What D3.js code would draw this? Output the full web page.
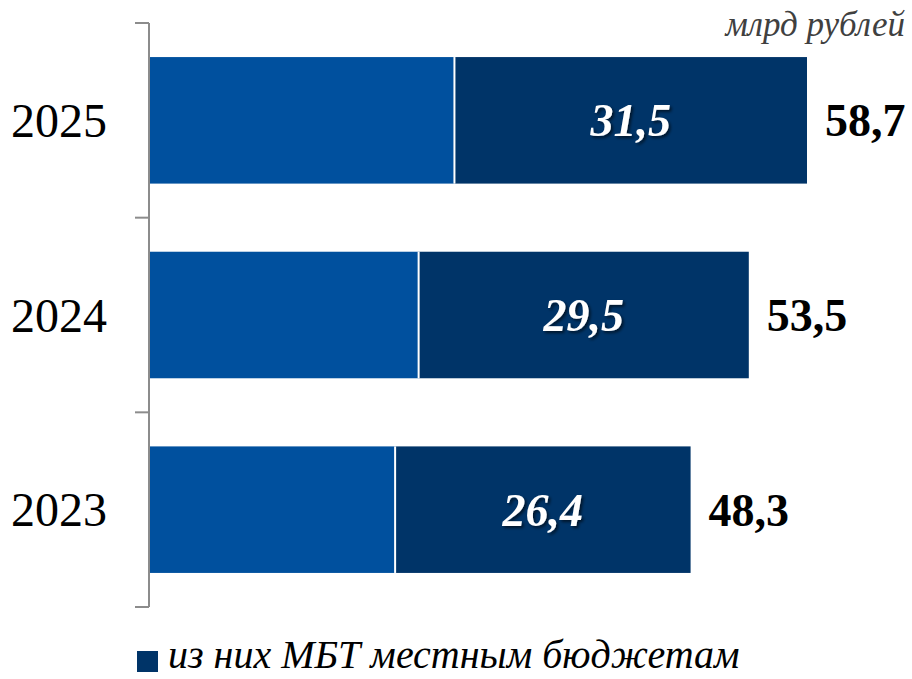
<!DOCTYPE html>
<html>
<head>
<meta charset="utf-8">
<script src="https://cdn.jsdelivr.net/npm/d3@7"></script>
<style>
  body { margin: 0; background: #fff; }
  text { font-family: "Liberation Serif", "DejaVu Serif", serif; }
</style>
</head>
<body>
<div id="chart"></div>
<script>
// data
var years = ["2025", "2024", "2023"];
var totals = [58.7, 53.5, 48.3];
var localMbt = [31.5, 29.5, 26.4];
var unitLabel = "млрд рублей";
var legendLabel = "из них МБТ местным бюджетам";

var svgWidth = 912;
var svgHeight = 679;

var margin = { top: 23, right: 105, bottom: 72, left: 150 };
var chartWidth = svgWidth - margin.left - margin.right;
var chartHeight = svgHeight - margin.top - margin.bottom;

var lightBlue = "#00509e";
var darkBlue = "#003468";

var svg = d3.select("#chart")
  .append("svg")
  .attr("width", svgWidth)
  .attr("height", svgHeight);

var defs = svg.append("defs");
defs.append("filter")
  .attr("id", "shadow")
  .attr("x", "-20%").attr("y", "-20%")
  .attr("width", "140%").attr("height", "140%")
  .append("feDropShadow")
  .attr("dx", 2).attr("dy", 2)
  .attr("stdDeviation", 1.5)
  .attr("flood-color", "#000")
  .attr("flood-opacity", 0.6);

var chartGroup = svg.append("g")
  .attr("transform", `translate(${margin.left}, ${margin.top})`);

var data = years.map(function(y, i) {
  return { year: y, total: totals[i], local: localMbt[i], rest: totals[i] - localMbt[i] };
});

var xScale = d3.scaleLinear()
  .domain([0, 58.7])
  .range([0, 657]);

var yScale = d3.scaleBand()
  .domain(years)
  .range([0, chartHeight])
  .paddingInner(0.35)
  .paddingOuter(0.175);

// axis line with ticks between categories
var step = yScale.step();
var boundaries = d3.range(years.length + 1).map(i => i * step);
chartGroup.append("line")
  .attr("x1", -1).attr("x2", -1)
  .attr("y1", 0).attr("y2", chartHeight)
  .attr("stroke", "#8c8c8c")
  .attr("stroke-width", 2);
chartGroup.selectAll(".tick")
  .data(boundaries)
  .enter()
  .append("line")
  .attr("x1", -15).attr("x2", -1)
  .attr("y1", d => d).attr("y2", d => d)
  .attr("stroke", "#8c8c8c")
  .attr("stroke-width", 2);

// light part (remainder)
chartGroup.selectAll(".rest")
  .data(data)
  .enter()
  .append("rect")
  .attr("x", xScale(0))
  .attr("y", d => yScale(d.year))
  .attr("width", d => xScale(d.rest))
  .attr("height", yScale.bandwidth())
  .attr("fill", lightBlue);

// dark part (local budgets)
chartGroup.selectAll(".local")
  .data(data)
  .enter()
  .append("rect")
  .attr("x", d => xScale(d.rest))
  .attr("y", d => yScale(d.year))
  .attr("width", d => xScale(d.total) - xScale(d.rest))
  .attr("height", yScale.bandwidth())
  .attr("fill", darkBlue);

// white separators
chartGroup.selectAll(".sep")
  .data(data)
  .enter()
  .append("line")
  .attr("x1", d => xScale(d.rest)).attr("x2", d => xScale(d.rest))
  .attr("y1", d => yScale(d.year))
  .attr("y2", d => yScale(d.year) + yScale.bandwidth())
  .attr("stroke", "#fff")
  .attr("stroke-width", 2);

var fmt = v => v.toFixed(1).replace(".", ",");

// labels inside dark part
chartGroup.selectAll(".inner")
  .data(data)
  .enter()
  .append("text")
  .attr("x", d => (xScale(d.rest) + xScale(d.total)) / 2)
  .attr("y", d => yScale(d.year) + yScale.bandwidth() / 2)
  .attr("dy", "0.35em")
  .attr("text-anchor", "middle")
  .attr("fill", "#fff")
  .attr("font-size", 46)
  .attr("font-style", "italic")
  .attr("font-weight", "bold")
  .attr("filter", "url(#shadow)")
  .text(d => fmt(d.local));

// totals
chartGroup.selectAll(".total")
  .data(data)
  .enter()
  .append("text")
  .attr("x", d => xScale(d.total) + 18)
  .attr("y", d => yScale(d.year) + yScale.bandwidth() / 2)
  .attr("dy", "0.35em")
  .attr("fill", "#000")
  .attr("font-size", 46)
  .attr("font-weight", "bold")
  .text(d => fmt(d.total));

// year labels
chartGroup.selectAll(".year")
  .data(data)
  .enter()
  .append("text")
  .attr("x", -43)
  .attr("y", d => yScale(d.year) + yScale.bandwidth() / 2)
  .attr("dy", "0.35em")
  .attr("text-anchor", "end")
  .attr("fill", "#000")
  .attr("font-size", 48)
  .text(d => d.year);

// unit
svg.append("text")
  .attr("x", 905)
  .attr("y", 36)
  .attr("text-anchor", "end")
  .attr("fill", "#404040")
  .attr("font-size", 35)
  .attr("font-style", "italic")
  .text(unitLabel);

// legend
svg.append("rect")
  .attr("x", 137).attr("y", 651)
  .attr("width", 21).attr("height", 21)
  .attr("fill", darkBlue);
svg.append("text")
  .attr("x", 168)
  .attr("y", 668)
  .attr("fill", "#000")
  .attr("font-size", 40)
  .attr("font-style", "italic")
  .text(legendLabel);
</script>
</body>
</html>
